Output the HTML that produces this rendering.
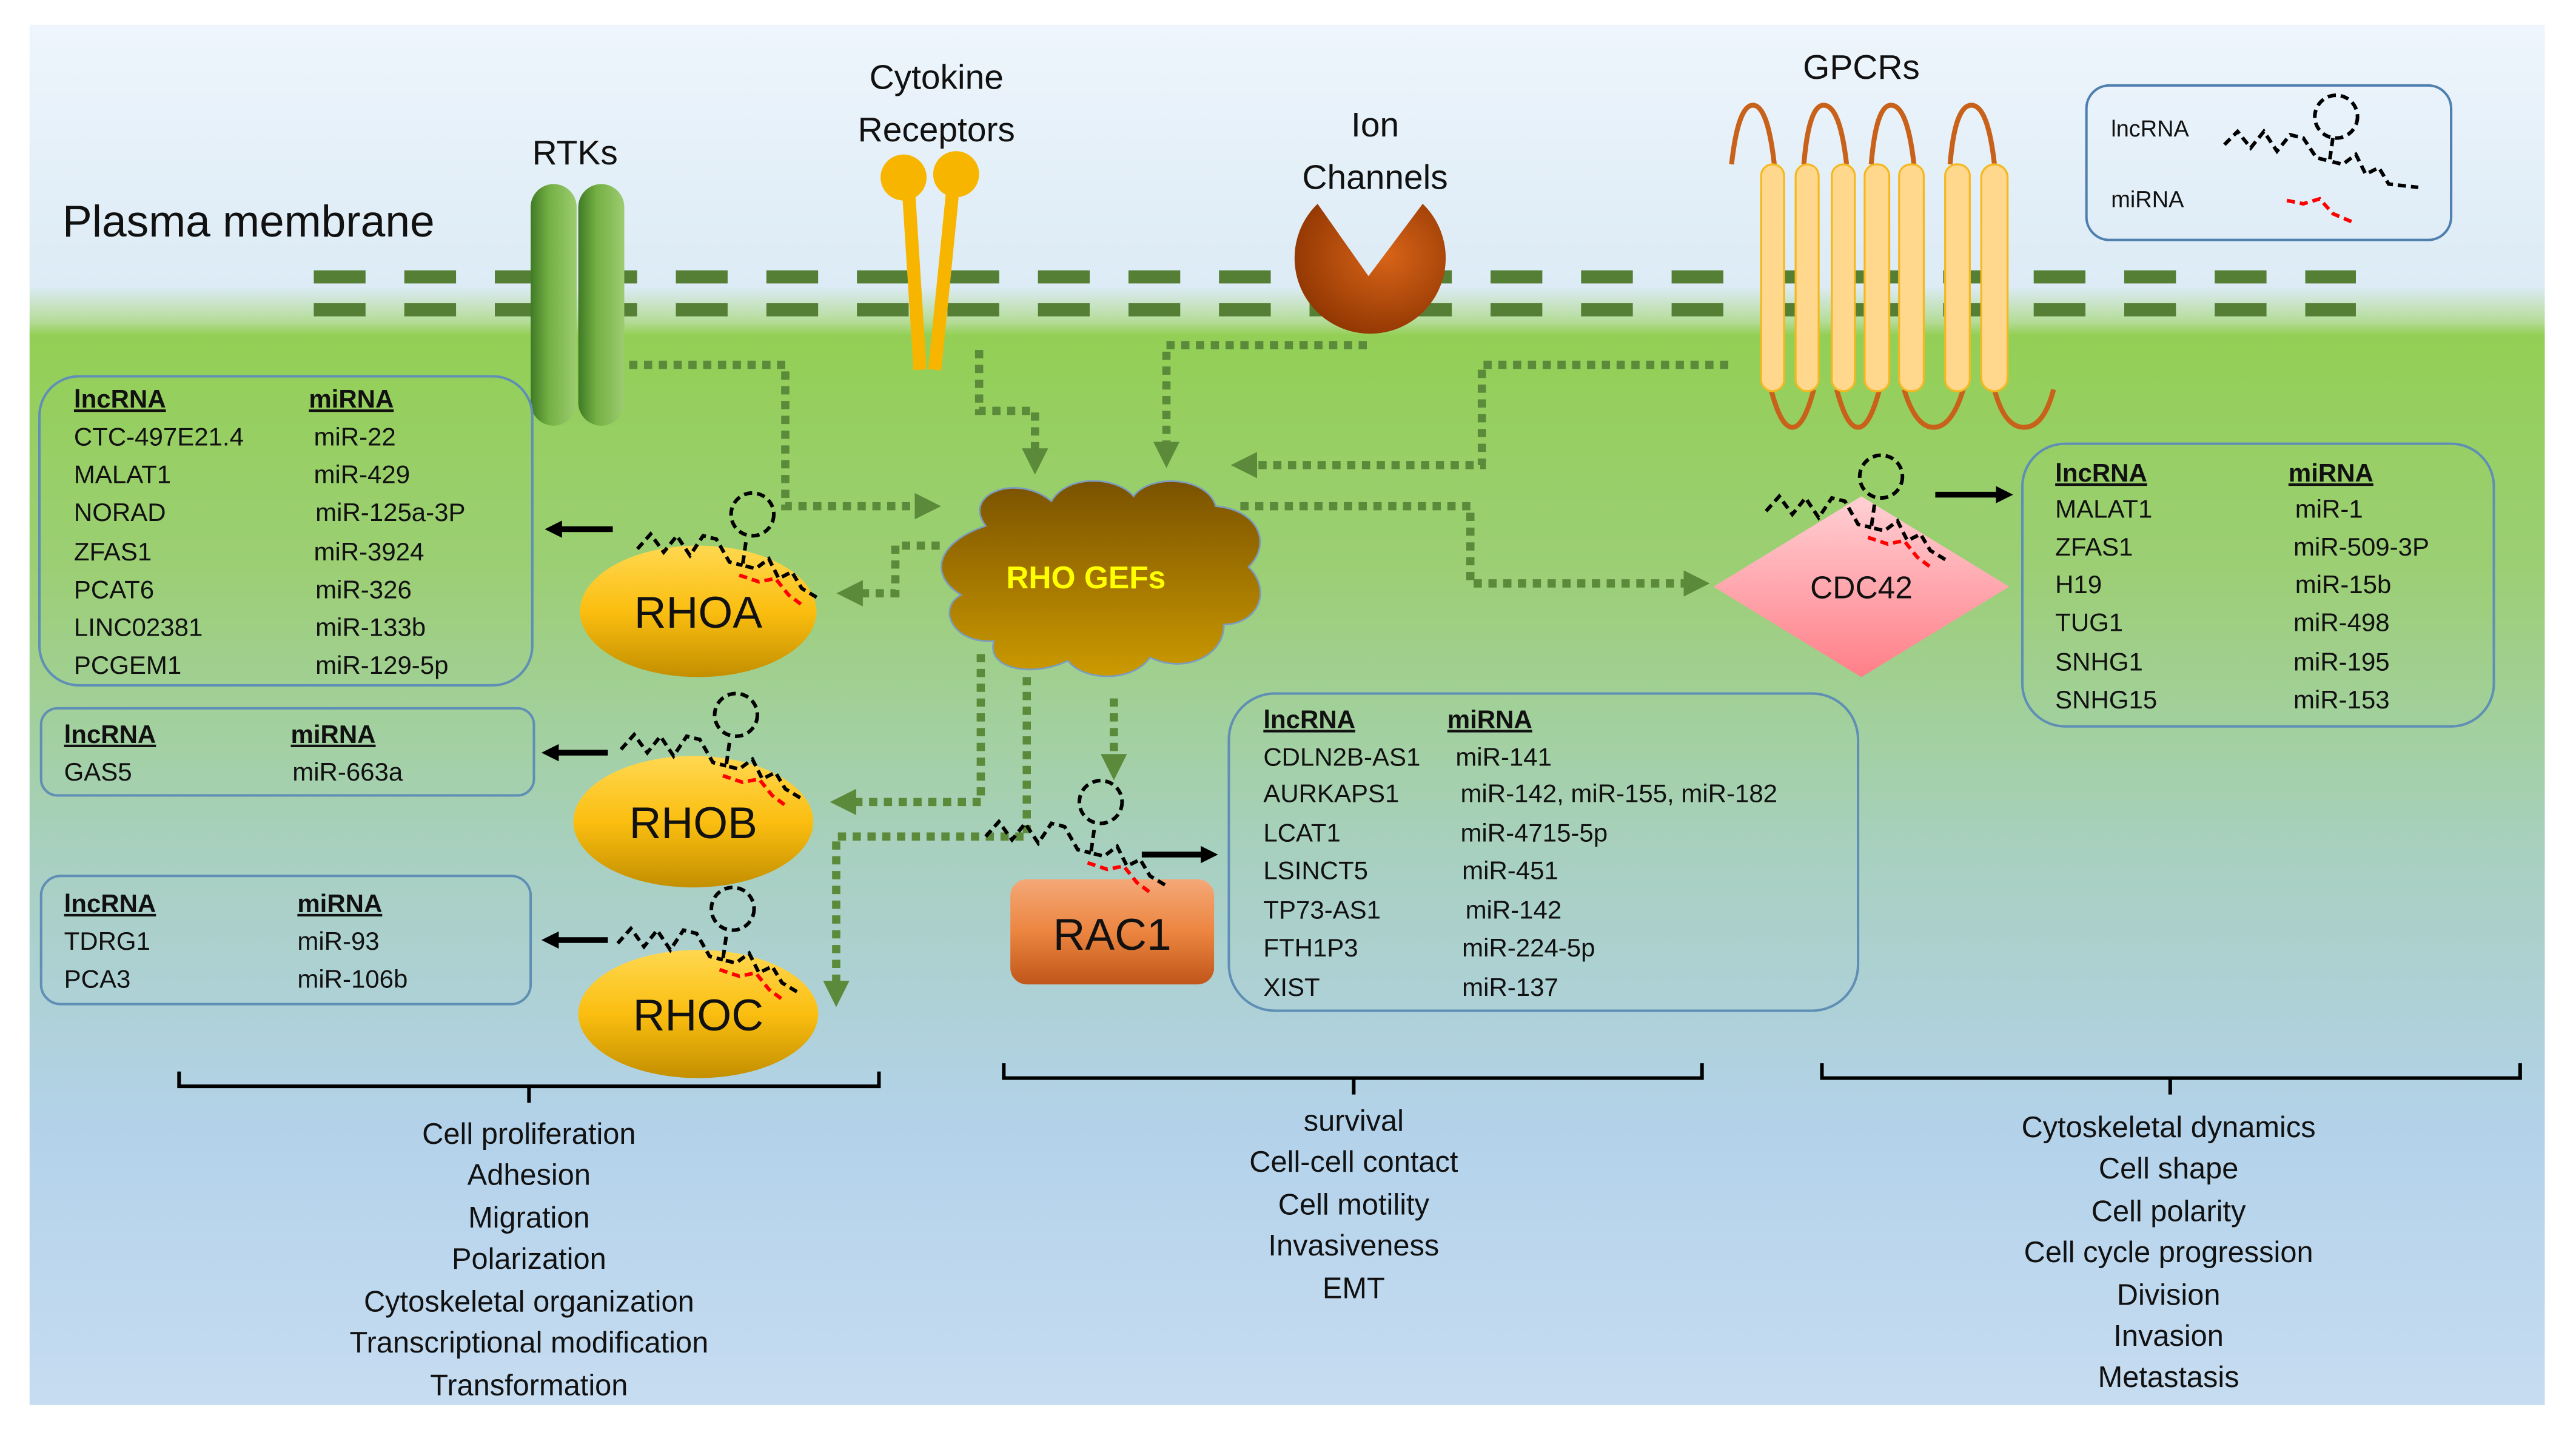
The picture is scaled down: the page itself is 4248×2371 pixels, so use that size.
<!DOCTYPE html>
<html><head><meta charset="utf-8"><style>
html,body{margin:0;padding:0;background:#fff}
svg{display:block}
text{font-family:"Liberation Sans",sans-serif;fill:#111}
.t{font-size:15.5px}
.h{font-size:15.5px;font-weight:bold;text-decoration:underline}
.b{font-size:18px}
</style></head><body>
<svg width="4248" height="2371" viewBox="0 0 1568 875" preserveAspectRatio="none" xmlns="http://www.w3.org/2000/svg">
<defs>
<linearGradient id="bg" x1="0" y1="15" x2="0" y2="855" gradientUnits="userSpaceOnUse">
<stop offset="0" stop-color="#eef5fc"/>
<stop offset="0.19" stop-color="#dcebf5"/>
<stop offset="0.215" stop-color="#b5dc98"/>
<stop offset="0.225" stop-color="#93cf55"/>
<stop offset="0.4" stop-color="#9ccf76"/>
<stop offset="0.6" stop-color="#a8d0c0"/>
<stop offset="0.8" stop-color="#b3d2ea"/>
<stop offset="1" stop-color="#c6dcf1"/>
</linearGradient>
<linearGradient id="gold" x1="0" y1="0" x2="0" y2="1">
<stop offset="0" stop-color="#ffd850"/><stop offset="0.5" stop-color="#fbbe10"/><stop offset="1" stop-color="#c38f00"/>
</linearGradient>
<linearGradient id="rac" x1="0" y1="0" x2="0" y2="1">
<stop offset="0" stop-color="#f4a878"/><stop offset="0.5" stop-color="#ec8540"/><stop offset="1" stop-color="#c0561a"/>
</linearGradient>
<linearGradient id="pink" x1="0" y1="0" x2="0" y2="1">
<stop offset="0" stop-color="#ffd0d4"/><stop offset="1" stop-color="#ff7f88"/>
</linearGradient>
<linearGradient id="cloud" x1="0" y1="0" x2="0" y2="1">
<stop offset="0" stop-color="#7a5200"/><stop offset="1" stop-color="#cc9a00"/>
</linearGradient>
<linearGradient id="rtk" x1="0" y1="0" x2="1" y2="0">
<stop offset="0" stop-color="#3f7a25"/><stop offset="0.4" stop-color="#74b044"/><stop offset="1" stop-color="#9ccc70"/>
</linearGradient>
<radialGradient id="ion" cx="0.6" cy="0.4" r="0.7">
<stop offset="0" stop-color="#d86418"/><stop offset="1" stop-color="#8a3200"/>
</radialGradient>
<g id="rna">
<circle cx="2" cy="-17" r="13" fill="none" stroke="#000" stroke-width="2.2" stroke-dasharray="5 3"/>
<path d="M-68,4 L-60,-5 L-52,6 L-44,-4 L-36,8 L-28,-4 L-20,-2 L-12,12 L-4,14" fill="none" stroke="#000" stroke-width="2.2" stroke-dasharray="5 3"/>
<path d="M-2,0 L-4,14 L4,16 L12,10 L18,22 L26,18 L32,28 L42,34" fill="none" stroke="#000" stroke-width="2.2" stroke-dasharray="5 3"/>
<path d="M-6,20 L6,24 L16,22 L24,32 L32,38" fill="none" stroke="#f00" stroke-width="2.2" stroke-dasharray="5 3"/>
</g>
<marker id="ga" viewBox="0 0 10 10" refX="2" refY="5" markerWidth="3.2" markerHeight="3.2" orient="auto"><path d="M0,0 L10,5 L0,10 Z" fill="#5a8a3a"/></marker>
<marker id="ba" viewBox="0 0 10 10" refX="2" refY="5" markerWidth="3" markerHeight="3" orient="auto"><path d="M0,0 L10,5 L0,10 Z" fill="#000"/></marker>
</defs>
<rect x="0" y="0" width="1568" height="875" fill="#fff"/>
<rect x="18" y="15" width="1531" height="840" fill="url(#bg)"/>

<g stroke="#557f35" stroke-width="8" stroke-dasharray="31.5 23.6">
<line x1="191" y1="168.5" x2="1434" y2="168.5"/>
<line x1="191" y1="188.5" x2="1434" y2="188.5"/>
</g>

<text x="38" y="144" style="font-size:27px">Plasma membrane</text>
<text x="350" y="100" text-anchor="middle" style="font-size:21px">RTKs</text>
<text x="570" y="54" text-anchor="middle" style="font-size:21px">Cytokine</text>
<text x="570" y="86" text-anchor="middle" style="font-size:21px">Receptors</text>
<text x="837" y="83" text-anchor="middle" style="font-size:21px">Ion</text>
<text x="837" y="115" text-anchor="middle" style="font-size:21px">Channels</text>
<text x="1133" y="48" text-anchor="middle" style="font-size:21px">GPCRs</text>

<rect x="323" y="112" width="28" height="147" rx="14" fill="url(#rtk)"/>
<rect x="352" y="112" width="28" height="147" rx="14" fill="url(#rtk)"/>

<line x1="553" y1="115" x2="560" y2="225" stroke="#f7b500" stroke-width="8"/>
<line x1="580" y1="115" x2="569" y2="225" stroke="#f7b500" stroke-width="8"/>
<circle cx="550" cy="108" r="14" fill="#f7b500"/>
<circle cx="582" cy="106" r="14" fill="#f7b500"/>

<path d="M833,168 L802,124 A46,46 0 1,0 866,124 Z" fill="url(#ion)"/>

<g fill="none" stroke="#c8621a" stroke-width="3">
<path d="M1054,100 Q1058,64 1067,64 Q1076,64 1080,100"/>
<path d="M1098,100 Q1101,64 1110,64 Q1120,64 1124,100"/>
<path d="M1139,100 Q1142,64 1151,64 Q1161,64 1165,100"/>
<path d="M1187,100 Q1190,64 1200,64 Q1210,64 1214,100"/>
<path d="M1078,237 Q1084,260 1091,260 Q1098,260 1104,237"/>
<path d="M1118,237 Q1124,260 1131,260 Q1138,260 1144,237"/>
<path d="M1159,237 Q1166,260 1177,260 Q1188,260 1195,237"/>
<path d="M1214,237 Q1220,260 1232,260 Q1244,260 1250,237"/>
</g>
<g fill="#ffd88e" stroke="#f5b820" stroke-width="1.2">
<rect x="1072" y="100" width="14" height="138" rx="7"/>
<rect x="1093" y="100" width="14" height="138" rx="7"/>
<rect x="1115" y="100" width="14" height="138" rx="7"/>
<rect x="1135" y="100" width="15" height="138" rx="7"/>
<rect x="1156" y="100" width="15" height="138" rx="7"/>
<rect x="1184" y="100" width="15" height="138" rx="7"/>
<rect x="1206" y="100" width="16" height="138" rx="8"/>
</g>

<rect x="1270" y="52" width="222" height="94" rx="14" fill="none" stroke="#4f7fae" stroke-width="1.5"/>
<text x="1285" y="83" style="font-size:14px">lncRNA</text>
<text x="1285" y="126" style="font-size:14px">miRNA</text>
<g fill="none" stroke="#000" stroke-width="2.2" stroke-dasharray="5 3">
<circle cx="1422" cy="71" r="13"/>
<path d="M1354,88 L1362,80 L1370,90 L1378,80 L1386,92 L1394,82 L1402,84 L1410,96 L1418,98"/>
<path d="M1420,84 L1418,98 L1426,100 L1434,94 L1440,106 L1448,102 L1454,112 L1472,114"/>
</g>
<path d="M1392,122 L1402,124 L1412,121 L1420,130 L1434,136" fill="none" stroke="#f00" stroke-width="2.2" stroke-dasharray="5 3"/>

<g fill="none" stroke="#5a8a3a" stroke-width="5" stroke-dasharray="5 4" marker-end="url(#ga)">
<path d="M383,222 H478 V308 H560"/>
<path d="M596,213 V250 H630 V276"/>
<path d="M832,210 H710 V272"/>
<path d="M1052,222 H902 V283 H762"/>
<path d="M755,308 H895 V355 H1028"/>
<path d="M572,332 H545 V361 H522"/>
<path d="M597,398 V488 H518"/>
<path d="M625,412 V509 H509 V600"/>
<path d="M678,425 V462"/>
</g>

<g fill="url(#cloud)" stroke="#7a9cc0" stroke-width="1">
<path d="M600,320 C585,300 620,288 640,305 C650,288 680,290 690,302 C700,288 735,290 740,308 C765,310 775,330 760,345 C775,360 765,380 745,380 C745,400 720,410 700,400 C690,415 660,415 650,402 C630,412 600,408 605,390 C580,392 570,370 585,362 C565,350 570,330 600,320 Z"/>
</g>
<text x="661" y="358" text-anchor="middle" style="font-size:19px;font-weight:bold;fill:#ffff00">RHO GEFs</text>

<ellipse cx="425" cy="372" rx="72" ry="40" fill="url(#gold)"/>
<ellipse cx="422" cy="500" rx="73" ry="40" fill="url(#gold)"/>
<ellipse cx="425" cy="617" rx="73" ry="39" fill="url(#gold)"/>
<text x="425" y="382" text-anchor="middle" style="font-size:27px">RHOA</text>
<text x="422" y="510" text-anchor="middle" style="font-size:27px">RHOB</text>
<text x="425" y="627" text-anchor="middle" style="font-size:27px">RHOC</text>

<rect x="615" y="535" width="124" height="64" rx="10" fill="url(#rac)"/>
<text x="677" y="578" text-anchor="middle" style="font-size:27px">RAC1</text>

<path d="M1133,302 L1223,357 L1133,412 L1043,357 Z" fill="url(#pink)"/>
<text x="1133" y="364" text-anchor="middle" style="font-size:19px">CDC42</text>

<use href="#rna" x="456" y="330"/>
<use href="#rna" x="446" y="452"/>
<use href="#rna" x="444" y="570"/>
<use href="#rna" x="668" y="505"/>
<use href="#rna" x="1143" y="307"/>

<g stroke="#000" stroke-width="3.5" marker-end="url(#ba)">
<line x1="373" y1="322" x2="340" y2="322"/>
<line x1="370" y1="458" x2="338" y2="458"/>
<line x1="370" y1="572" x2="338" y2="572"/>
<line x1="695" y1="520" x2="733" y2="520"/>
<line x1="1178" y1="301" x2="1217" y2="301"/>
</g>

<g fill="none" stroke="#5f8fb5" stroke-width="1.5">
<rect x="24" y="229" width="300" height="188" rx="24"/>
<rect x="25" y="431" width="300" height="53" rx="10"/>
<rect x="25" y="533" width="298" height="78" rx="12"/>
<rect x="748" y="422" width="383" height="193" rx="28"/>
<rect x="1231" y="270" width="287" height="172" rx="26"/>
</g>

<text class="h" x="45" y="248">lncRNA</text><text class="h" x="188" y="248">miRNA</text>
<text class="t" x="45" y="271">CTC-497E21.4</text><text class="t" x="191" y="271">miR-22</text>
<text class="t" x="45" y="294">MALAT1</text><text class="t" x="191" y="294">miR-429</text>
<text class="t" x="45" y="317">NORAD</text><text class="t" x="192" y="317">miR-125a-3P</text>
<text class="t" x="45" y="341">ZFAS1</text><text class="t" x="191" y="341">miR-3924</text>
<text class="t" x="45" y="364">PCAT6</text><text class="t" x="192" y="364">miR-326</text>
<text class="t" x="45" y="387">LINC02381</text><text class="t" x="192" y="387">miR-133b</text>
<text class="t" x="45" y="410">PCGEM1</text><text class="t" x="192" y="410">miR-129-5p</text>

<text class="h" x="39" y="452">lncRNA</text><text class="h" x="177" y="452">miRNA</text>
<text class="t" x="39" y="475">GAS5</text><text class="t" x="178" y="475">miR-663a</text>

<text class="h" x="39" y="555">lncRNA</text><text class="h" x="181" y="555">miRNA</text>
<text class="t" x="39" y="578">TDRG1</text><text class="t" x="181" y="578">miR-93</text>
<text class="t" x="39" y="601">PCA3</text><text class="t" x="181" y="601">miR-106b</text>

<text class="h" x="769" y="443">lncRNA</text><text class="h" x="881" y="443">miRNA</text>
<text class="t" x="769" y="466">CDLN2B-AS1</text><text class="t" x="886" y="466">miR-141</text>
<text class="t" x="769" y="488">AURKAPS1</text><text class="t" x="889" y="488">miR-142, miR-155, miR-182</text>
<text class="t" x="769" y="512">LCAT1</text><text class="t" x="889" y="512">miR-4715-5p</text>
<text class="t" x="769" y="535">LSINCT5</text><text class="t" x="890" y="535">miR-451</text>
<text class="t" x="769" y="559">TP73-AS1</text><text class="t" x="892" y="559">miR-142</text>
<text class="t" x="769" y="582">FTH1P3</text><text class="t" x="890" y="582">miR-224-5p</text>
<text class="t" x="769" y="606">XIST</text><text class="t" x="890" y="606">miR-137</text>

<text class="h" x="1251" y="293">lncRNA</text><text class="h" x="1393" y="293">miRNA</text>
<text class="t" x="1251" y="315">MALAT1</text><text class="t" x="1397" y="315">miR-1</text>
<text class="t" x="1251" y="338">ZFAS1</text><text class="t" x="1396" y="338">miR-509-3P</text>
<text class="t" x="1251" y="361">H19</text><text class="t" x="1397" y="361">miR-15b</text>
<text class="t" x="1251" y="384">TUG1</text><text class="t" x="1396" y="384">miR-498</text>
<text class="t" x="1251" y="408">SNHG1</text><text class="t" x="1396" y="408">miR-195</text>
<text class="t" x="1251" y="431">SNHG15</text><text class="t" x="1396" y="431">miR-153</text>

<g fill="none" stroke="#000" stroke-width="2.2">
<path d="M109,652 V661 H535 V652 M322,661 V671"/>
<path d="M611,647 V656 H1036 V647 M824,656 V666"/>
<path d="M1109,647 V656 H1534 V647 M1321,656 V666"/>
</g>
<g text-anchor="middle">
<text class="b" x="322" y="696">Cell proliferation</text>
<text class="b" x="322" y="721">Adhesion</text>
<text class="b" x="322" y="747">Migration</text>
<text class="b" x="322" y="772">Polarization</text>
<text class="b" x="322" y="798">Cytoskeletal organization</text>
<text class="b" x="322" y="823">Transcriptional modification</text>
<text class="b" x="322" y="849">Transformation</text>
<text class="b" x="824" y="688">survival</text>
<text class="b" x="824" y="713">Cell-cell contact</text>
<text class="b" x="824" y="739">Cell motility</text>
<text class="b" x="824" y="764">Invasiveness</text>
<text class="b" x="824" y="790">EMT</text>
<text class="b" x="1320" y="692">Cytoskeletal dynamics</text>
<text class="b" x="1320" y="717">Cell shape</text>
<text class="b" x="1320" y="743">Cell polarity</text>
<text class="b" x="1320" y="768">Cell cycle progression</text>
<text class="b" x="1320" y="794">Division</text>
<text class="b" x="1320" y="819">Invasion</text>
<text class="b" x="1320" y="844">Metastasis</text>
</g>
</svg>
</body></html>
